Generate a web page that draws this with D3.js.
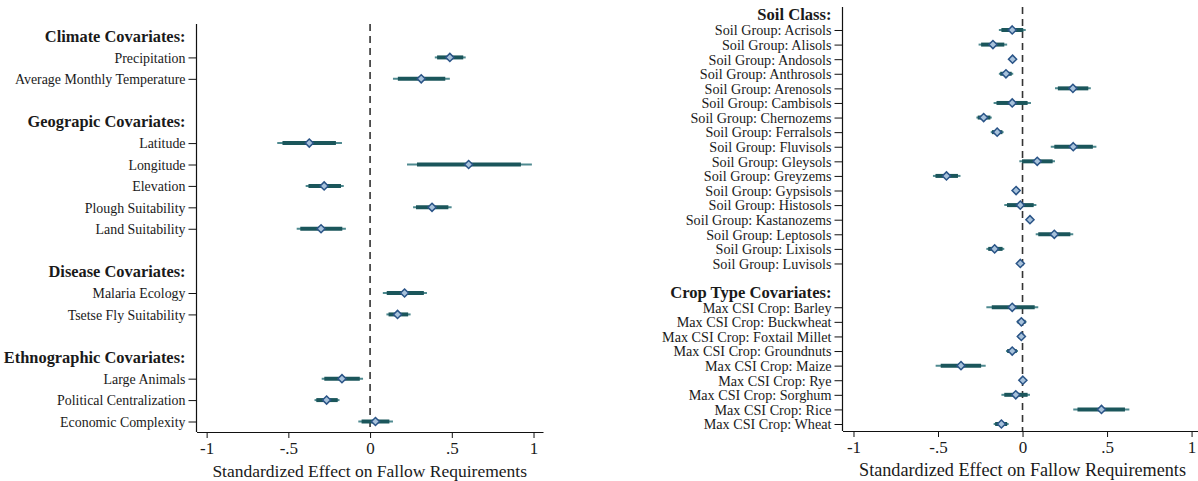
<!DOCTYPE html>
<html><head><meta charset="utf-8">
<script src="https://cdn.jsdelivr.net/npm/d3@7"></script>
<style>
html,body{margin:0;padding:0;background:#fff;}
svg{display:block;}
text{font-family:"Liberation Serif","DejaVu Serif",serif;fill:#1a1a1a;}
</style></head>
<body>
<svg id="chart" width="1198" height="481"></svg>
<script>
// ---------- Left panel data ----------
const leftRows = ["Climate Covariates:", "Precipitation", "Average Monthly Temperature", "gap1",
  "Geograpic Covariates:", "Latitude", "Longitude", "Elevation", "Plough Suitability", "Land Suitability", "gap2",
  "Disease Covariates:", "Malaria Ecology", "Tsetse Fly Suitability", "gap3",
  "Ethnographic Covariates:", "Large Animals", "Political Centralization", "Economic Complexity"];
const leftHeaders = ["Climate Covariates:", "Geograpic Covariates:", "Disease Covariates:", "Ethnographic Covariates:"];
const leftItems = ["Precipitation", "Average Monthly Temperature", "Latitude", "Longitude", "Elevation",
  "Plough Suitability", "Land Suitability", "Malaria Ecology", "Tsetse Fly Suitability",
  "Large Animals", "Political Centralization", "Economic Complexity"];
const leftCoef = [0.488, 0.313, -0.372, 0.603, -0.281, 0.379, -0.300, 0.211, 0.168, -0.172, -0.266, 0.033];
const leftLo95 = [0.396, 0.140, -0.568, 0.226, -0.394, 0.263, -0.449, 0.078, 0.100, -0.296, -0.340, -0.072];
const leftHi95 = [0.585, 0.488, -0.172, 0.990, -0.161, 0.499, -0.148, 0.348, 0.248, -0.043, -0.187, 0.140];
const leftLo90 = [0.410, 0.170, -0.536, 0.287, -0.377, 0.281, -0.427, 0.102, 0.113, -0.280, -0.329, -0.052];
const leftHi90 = [0.570, 0.460, -0.209, 0.923, -0.178, 0.479, -0.170, 0.329, 0.233, -0.063, -0.198, 0.118];

// ---------- Right panel data ----------
const rightRows = ["Soil Class:", "Soil Group: Acrisols", "Soil Group: Alisols", "Soil Group: Andosols",
  "Soil Group: Anthrosols", "Soil Group: Arenosols", "Soil Group: Cambisols", "Soil Group: Chernozems",
  "Soil Group: Ferralsols", "Soil Group: Fluvisols", "Soil Group: Gleysols", "Soil Group: Greyzems",
  "Soil Group: Gypsisols", "Soil Group: Histosols", "Soil Group: Kastanozems", "Soil Group: Leptosols",
  "Soil Group: Lixisols", "Soil Group: Luvisols", "gap1",
  "Crop Type Covariates:", "Max CSI Crop: Barley", "Max CSI Crop: Buckwheat", "Max CSI Crop: Foxtail Millet",
  "Max CSI Crop: Groundnuts", "Max CSI Crop: Maize", "Max CSI Crop: Rye", "Max CSI Crop: Sorghum",
  "Max CSI Crop: Rice", "Max CSI Crop: Wheat"];
const rightHeaders = ["Soil Class:", "Crop Type Covariates:"];
const rightItems = ["Soil Group: Acrisols", "Soil Group: Alisols", "Soil Group: Andosols",
  "Soil Group: Anthrosols", "Soil Group: Arenosols", "Soil Group: Cambisols", "Soil Group: Chernozems",
  "Soil Group: Ferralsols", "Soil Group: Fluvisols", "Soil Group: Gleysols", "Soil Group: Greyzems",
  "Soil Group: Gypsisols", "Soil Group: Histosols", "Soil Group: Kastanozems", "Soil Group: Leptosols",
  "Soil Group: Lixisols", "Soil Group: Luvisols",
  "Max CSI Crop: Barley", "Max CSI Crop: Buckwheat", "Max CSI Crop: Foxtail Millet",
  "Max CSI Crop: Groundnuts", "Max CSI Crop: Maize", "Max CSI Crop: Rye", "Max CSI Crop: Sorghum",
  "Max CSI Crop: Rice", "Max CSI Crop: Wheat"];
const rightCoef = [-0.061, -0.175, -0.059, -0.098, 0.298, -0.061, -0.230, -0.150, 0.300, 0.087, -0.450,
  -0.038, -0.013, 0.044, 0.188, -0.165, -0.013,
  -0.061, -0.007, -0.007, -0.061, -0.364, 0.002, -0.040, 0.467, -0.125];
const rightLo95 = [-0.140, -0.260, -0.076, -0.140, 0.192, -0.171, -0.273, -0.188, 0.167, -0.019, -0.530,
  -0.055, -0.108, 0.030, 0.078, -0.214, -0.030,
  -0.214, -0.034, -0.028, -0.098, -0.514, -0.013, -0.125, 0.300, -0.171];
const rightHi95 = [0.019, -0.091, -0.040, -0.055, 0.404, 0.050, -0.182, -0.112, 0.437, 0.192, -0.367,
  -0.020, 0.082, 0.058, 0.300, -0.108, 0.006,
  0.093, 0.023, 0.013, -0.027, -0.218, 0.016, 0.044, 0.632, -0.082];
const rightLo90 = [-0.125, -0.245, -0.072, -0.132, 0.209, -0.154, -0.265, -0.181, 0.188, -0.003, -0.515,
  -0.052, -0.092, 0.033, 0.093, -0.203, -0.027,
  -0.182, -0.029, -0.024, -0.091, -0.484, -0.010, -0.108, 0.325, -0.162];
const rightHi90 = [0.004, -0.108, -0.047, -0.064, 0.389, 0.030, -0.190, -0.119, 0.416, 0.178, -0.382,
  -0.024, 0.066, 0.055, 0.283, -0.118, 0.000,
  0.072, 0.018, 0.009, -0.034, -0.245, 0.013, 0.030, 0.606, -0.091];

const xTicks = [-1, -0.5, 0, 0.5, 1];
const xTickLabels = ["-1", "-.5", "0", ".5", "1"];
const xTitle = "Standardized Effect on Fallow Requirements";

// ---------- drawing ----------
const svg = d3.select("#chart");
const C = {thin: "#4f8a90", thick: "#1b565b", fill: "#a8c2db", stroke: "#2a5487", axis: "#111", ref: "#333"};

function panel(cfg) {
  const g = svg.append("g");
  const x = d3.scaleLinear().domain(cfg.xDomain).range([cfg.left, cfg.right]);
  const y = d3.scalePoint().domain(cfg.rows).range([cfg.yFirst, cfg.yLast]);

  // reference line at 0
  g.append("line")
    .attr("x1", x(0)).attr("x2", x(0))
    .attr("y1", cfg.top).attr("y2", cfg.bottom)
    .attr("stroke", C.ref).attr("stroke-width", 1.6)
    .attr("stroke-dasharray", "7,5");

  // y axis (items only)
  const yAxis = d3.axisLeft(y).tickValues(cfg.items).tickSize(8).tickPadding(3).tickSizeOuter(0);
  const ya = g.append("g").attr("transform", `translate(${cfg.left},0)`).call(yAxis);
  ya.select(".domain").remove();
  ya.selectAll(".tick line").attr("stroke", C.axis).attr("stroke-width", 1);
  ya.selectAll(".tick text").attr("font-family", "Liberation Serif").attr("font-size", cfg.labelSize)
    .attr("fill", "#1a1a1a").attr("dy", "0.34em");

  // headers
  g.selectAll("text.hdr").data(cfg.headers).enter().append("text")
    .attr("class", "hdr")
    .attr("x", cfg.left - 11).attr("y", d => y(d) + cfg.headerShift).attr("dy", "0.34em")
    .attr("text-anchor", "end").attr("font-weight", "bold")
    .attr("font-size", cfg.headerSize).text(d => d);

  // axis lines
  g.append("line").attr("x1", cfg.left).attr("x2", cfg.left)
    .attr("y1", cfg.top).attr("y2", cfg.bottom).attr("stroke", C.axis).attr("stroke-width", 1.2);

  const xAxis = d3.axisBottom(x).tickValues(xTicks)
    .tickFormat((d, i) => xTickLabels[i]).tickSize(6).tickPadding(4).tickSizeOuter(0);
  const xa = g.append("g").attr("transform", `translate(0,${cfg.bottom})`).call(xAxis);
  xa.select(".domain").attr("stroke", C.axis).attr("stroke-width", 1.2);
  xa.selectAll(".tick line").attr("stroke", C.axis);
  xa.selectAll(".tick text").attr("font-family", "Liberation Serif").attr("font-size", 17).attr("fill", "#1a1a1a");

  g.append("text").attr("x", cfg.titleX).attr("y", cfg.bottom + 45)
    .attr("text-anchor", "middle").attr("font-size", cfg.titleSize).text(xTitle);

  const data = cfg.items.map((k, i) => ({k, b: cfg.coef[i], l95: cfg.lo95[i], h95: cfg.hi95[i], l90: cfg.lo90[i], h90: cfg.hi90[i]}));

  g.selectAll("line.ci95").data(data).enter().append("line").attr("class", "ci95")
    .attr("x1", d => x(d.l95)).attr("x2", d => x(d.h95))
    .attr("y1", d => y(d.k)).attr("y2", d => y(d.k))
    .attr("stroke", C.thin).attr("stroke-width", 2);
  g.selectAll("line.ci90").data(data).enter().append("line").attr("class", "ci90")
    .attr("x1", d => x(d.l90)).attr("x2", d => x(d.h90))
    .attr("y1", d => y(d.k)).attr("y2", d => y(d.k))
    .attr("stroke", C.thick).attr("stroke-width", 4);
  const sym = d3.symbol().type(d3.symbolDiamond2).size(cfg.markSize);
  g.selectAll("path.pt").data(data).enter().append("path").attr("class", "pt")
    .attr("transform", d => `translate(${x(d.b)},${y(d.k)})`)
    .attr("d", sym)
    .attr("fill", C.fill).attr("stroke", C.stroke).attr("stroke-width", 1.5);
}

panel({
  rows: leftRows, headers: leftHeaders, items: leftItems,
  coef: leftCoef, lo95: leftLo95, hi95: leftHi95, lo90: leftLo90, hi90: leftHi90,
  xDomain: [-1.062, 1.058], left: 196.5, right: 543,
  yFirst: 36, yLast: 421.5, top: 24, bottom: 432,
  labelSize: 13.9, headerSize: 16.4, headerShift: 0, titleSize: 17.5, titleX: 369.7, markSize: 42
});

panel({
  rows: rightRows, headers: rightHeaders, items: rightItems,
  coef: rightCoef, lo95: rightLo95, hi95: rightHi95, lo90: rightLo90, hi90: rightHi90,
  xDomain: [-1.065, 1.038], left: 842.5, right: 1198,
  yFirst: 15.4, yLast: 424, top: 7, bottom: 431,
  labelSize: 14.2, headerSize: 16.6, headerShift: -0.8, titleSize: 18.2, titleX: 1022.5, markSize: 42
});
</script>
</body></html>
